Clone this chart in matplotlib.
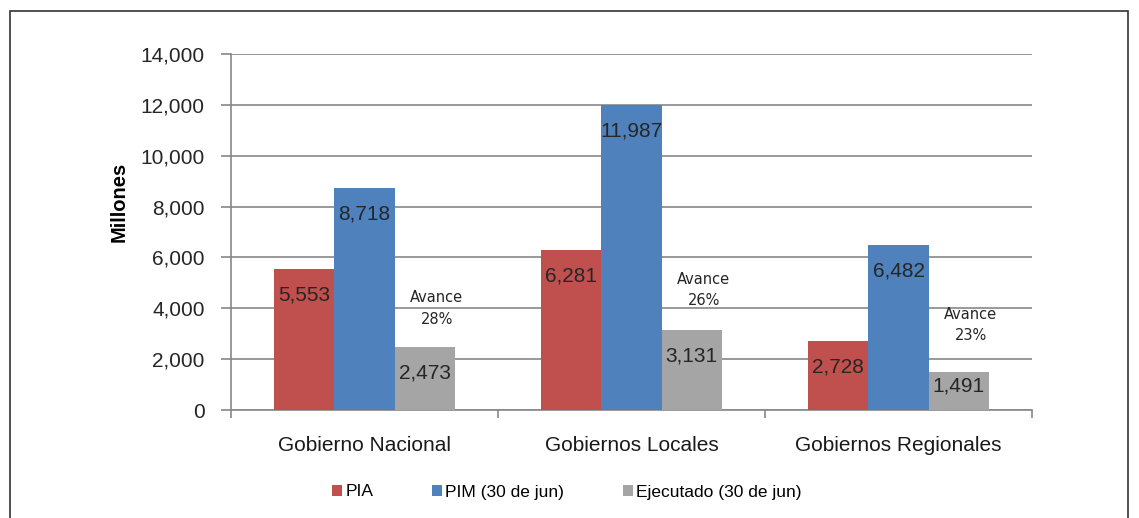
import matplotlib
matplotlib.use("Agg")
import matplotlib.pyplot as plt
from matplotlib.patches import Rectangle
from matplotlib.ticker import FuncFormatter, FixedLocator
import numpy as np

plt.rcParams['font.family'] = ['Liberation Sans', 'DejaVu Sans']

# datos (millones)
categorias = ["Gobierno Nacional", "Gobiernos Locales", "Gobiernos Regionales"]
series = ["PIA", "PIM (30 de jun)", "Ejecutado (30 de jun)"]
pia = [5553, 6281, 2728]
pim = [8718, 11987, 6482]
ejecutado = [2473, 3131, 1491]
avance = ["28%", "26%", "23%"]
avance_y = [3990, 4720, 3340]

colores = ["#C0504D", "#4F81BD", "#A5A5A5"]

fig = plt.figure(figsize=(11.39, 5.18), dpi=100)
ax = fig.add_axes([231 / 1139, 1 - 410 / 518, 801 / 1139, 356 / 518])

px_por_unidad = 356 / 14000  # altura en pixeles por millon
x = np.arange(len(categorias))
ancho = 0.225
for i, (vals, col, nom) in enumerate(zip([pia, pim, ejecutado], colores, series)):
    pos = x + (i - 1) * ancho
    ax.bar(pos, vals, width=ancho, color=col, label=nom, zorder=3)
    for xp, v in zip(pos, vals):
        h = v * px_por_unidad
        off_px = min(26, h - 24)
        ax.annotate(f"{v:,}", (xp, v), xytext=(0, -off_px * 0.72), textcoords="offset points",
                    ha="center", va="center", fontsize=15, color="#262626", zorder=4)

for xp, txt, yy in zip(x, avance, avance_y):
    ax.text(xp + 0.27, yy, f"Avance\n{txt}", ha="center", va="center",
            fontsize=10.5, family="DejaVu Sans", color="#262626", linespacing=1.55, zorder=4)

ax.set_xlim(-0.5, 2.5)
ax.set_ylim(0, 14000)
ax.set_yticks(np.arange(0, 14001, 2000))
ax.yaxis.set_major_formatter(FuncFormatter(lambda v, p: f"{int(v):,}"))
ax.set_xticks(x)
ax.set_xticklabels(categorias, fontsize=15, color="#1a1a1a")
ax.xaxis.set_minor_locator(FixedLocator([-0.5, 0.5, 1.5, 2.5]))
ax.tick_params(axis="x", which="major", length=0, pad=19)
ax.tick_params(axis="x", which="minor", length=6, color="#878787", width=1.2)
ax.tick_params(axis="y", length=7, color="#878787", width=1.2, labelsize=15,
               labelcolor="#262626", pad=12)

ax.grid(axis="y", color="#878787", linewidth=1.2, zorder=0)
for s in ["top", "right"]:
    ax.spines[s].set_visible(False)
for s in ["left", "bottom"]:
    ax.spines[s].set_color("#878787")
    ax.spines[s].set_linewidth(1.2)

ax.set_ylabel("Millones", fontsize=14.5, fontweight="bold", va="center")
ax.yaxis.set_label_coords(-0.14, 0.584)

leg = fig.legend(loc="center", bbox_to_anchor=(567 / 1139, 1 - 492 / 518), ncol=3,
                 frameon=False, fontsize=12.5, handlelength=0.55, handleheight=0.55,
                 handletextpad=0.2, columnspacing=3.4)

fig.patches.append(Rectangle((10 / 1139, -0.05), 1118 / 1139, 1.05 - 11 / 518,
                             transform=fig.transFigure, fill=False,
                             edgecolor="#333333", linewidth=1.2))

fig.savefig("out.png", dpi=100)
